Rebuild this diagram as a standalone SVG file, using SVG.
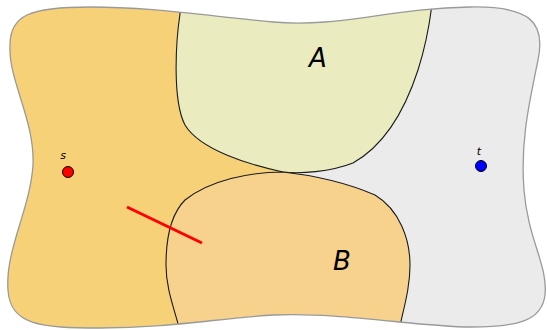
<svg xmlns="http://www.w3.org/2000/svg" width="547" height="330" viewBox="0 0 547 330">
<style>
.edge{fill:none;stroke:#1a1a1a;stroke-width:1.1}
.lbl{font-family:"DejaVu Sans",sans-serif;font-style:italic;fill:#000;text-anchor:middle}
.big{font-size:26px}
.small{font-size:11px}
.pt{stroke:#000;stroke-width:1}
</style>
<defs>
<path id="outerPath" d="M10,45 C10,15 30,7 90,7 C150,7 200,15 273,22 C340,28 390,8 470,7 C530,6 546,22 538,60 C530,100 520,140 524,190 C528,240 548,265 545,295 C542,320 520,327 470,327 C420,327 340,312 274,315 C220,318 170,328 100,328 C40,328 10,325 8,290 C5,250 30,210 33,165 C35,120 8,80 10,45 Z"/>
<clipPath id="clip"><use href="#outerPath"/></clipPath>
</defs>
<use href="#outerPath" fill="#ebebeb"/>
<g clip-path="url(#clip)">
<g id="regionS">
<path d="M-5,-5 L181,-5 L180,14 C176,40 172,100 185,125 C200,150 250,165 283,172 L292,210 L292,340 L-5,340 Z" fill="#f6d178"/>
</g>
<g id="regionA">
<path d="M181,-5 L180,14 C176,40 172,100 185,125 C200,150 250,165 283,172 C300,174 330,172 353,163 C385,145 405,110 418,70 C426,45 430,25 433,-5 Z" fill="#ebebc0"/>
<path class="edge" d="M181,-5 L180,14 C176,40 172,100 185,125 C200,150 250,165 283,172 C300,174 330,172 353,163 C385,145 405,110 418,70 C426,45 430,25 433,-5"/>
</g>
<g id="regionB">
<path d="M283,172 C310,175 345,182 375,195 C400,210 410,240 410,265 C410,290 403,310 398,335 L181,335 C175,310 166,290 166,265 C166,240 170,215 185,200 C210,180 250,172 283,172 Z" fill="#f7d28d"/>
<path class="edge" d="M398,335 C403,310 410,290 410,265 C410,240 400,210 375,195 C345,182 310,175 283,172 C250,172 210,180 185,200 C170,215 166,240 166,265 C166,290 175,310 181,335"/>
</g>
</g>
<use href="#outerPath" fill="none" stroke="#9a9a9a" stroke-width="1.3"/>
<g id="connectors">
<line id="cut" x1="127" y1="207" x2="202" y2="243" stroke="#ff0000" stroke-width="3"/>
</g>
<g id="labelA"><text class="lbl big" x="318" y="67">A</text></g>
<g id="labelB"><text class="lbl big" x="342" y="270">B</text></g>
<g id="s"><circle class="pt" cx="68" cy="172" r="5.5" fill="#ff0000"/><text class="lbl small" x="63" y="159">s</text></g>
<g id="t"><circle class="pt" cx="481" cy="166" r="5.5" fill="#0000ff"/><text class="lbl small" x="479" y="155">t</text></g>
</svg>
